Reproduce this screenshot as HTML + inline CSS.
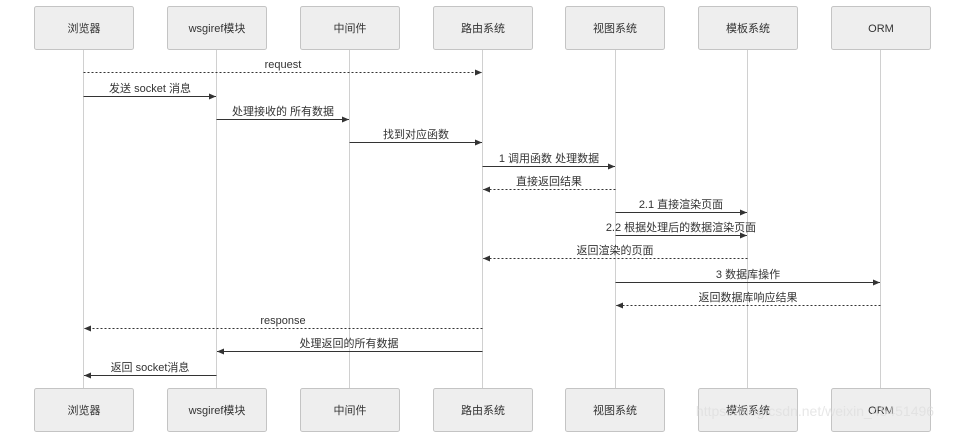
<!DOCTYPE html>
<html><head><meta charset="utf-8"><style>
html,body{margin:0;padding:0;background:#fff;}
svg{display:block;font-family:"Liberation Sans","Noto Sans CJK SC",sans-serif;}
</style></head><body>
<svg width="963" height="432" viewBox="0 0 963 432" xmlns="http://www.w3.org/2000/svg">
<defs>
<marker id="a" markerWidth="8" markerHeight="6" refX="7" refY="3" orient="auto" markerUnits="userSpaceOnUse">
<path d="M0,0 L7,3 L0,6 Z" fill="#333"/></marker>
</defs>
<g stroke="#d0d0d0" stroke-width="1">
<line x1="83.5" y1="49" x2="83.5" y2="388"/>
<line x1="216.5" y1="49" x2="216.5" y2="388"/>
<line x1="349.5" y1="49" x2="349.5" y2="388"/>
<line x1="482.5" y1="49" x2="482.5" y2="388"/>
<line x1="615.5" y1="49" x2="615.5" y2="388"/>
<line x1="747.5" y1="49" x2="747.5" y2="388"/>
<line x1="880.5" y1="49" x2="880.5" y2="388"/>
</g>
<g fill="#eeeeee" stroke="#c4c4c4" stroke-width="1">
<rect x="34.5" y="6.5" width="99" height="43" rx="2"/>
<rect x="167.5" y="6.5" width="99" height="43" rx="2"/>
<rect x="300.5" y="6.5" width="99" height="43" rx="2"/>
<rect x="433.5" y="6.5" width="99" height="43" rx="2"/>
<rect x="565.5" y="6.5" width="99" height="43" rx="2"/>
<rect x="698.5" y="6.5" width="99" height="43" rx="2"/>
<rect x="831.5" y="6.5" width="99" height="43" rx="2"/>
<rect x="34.5" y="388.5" width="99" height="43" rx="2"/>
<rect x="167.5" y="388.5" width="99" height="43" rx="2"/>
<rect x="300.5" y="388.5" width="99" height="43" rx="2"/>
<rect x="433.5" y="388.5" width="99" height="43" rx="2"/>
<rect x="565.5" y="388.5" width="99" height="43" rx="2"/>
<rect x="698.5" y="388.5" width="99" height="43" rx="2"/>
<rect x="831.5" y="388.5" width="99" height="43" rx="2"/>
</g>
<g font-size="11" fill="#333" text-anchor="middle">
<text x="84" y="32">浏览器</text><text x="217" y="32">wsgiref模块</text><text x="350" y="32">中间件</text>
<text x="483" y="32">路由系统</text><text x="615" y="32">视图系统</text><text x="748" y="32">模板系统</text><text x="881" y="32">ORM</text>
<text x="84" y="414">浏览器</text><text x="217" y="414">wsgiref模块</text><text x="350" y="414">中间件</text>
<text x="483" y="414">路由系统</text><text x="615" y="414">视图系统</text><text x="748" y="414">模板系统</text><text x="881" y="414">ORM</text>
</g>
<g stroke="#333" stroke-width="1" fill="none" marker-end="url(#a)">
<line x1="83.5" y1="72.5" x2="482" y2="72.5" stroke-dasharray="2,2"/>
<line x1="83.5" y1="96.5" x2="216" y2="96.5"/>
<line x1="216.5" y1="119.5" x2="349" y2="119.5"/>
<line x1="349.5" y1="142.5" x2="482" y2="142.5"/>
<line x1="482.5" y1="166.5" x2="615" y2="166.5"/>
<line x1="615.5" y1="189.5" x2="483" y2="189.5" stroke-dasharray="2,2"/>
<line x1="615.5" y1="212.5" x2="747" y2="212.5"/>
<line x1="615.5" y1="235.5" x2="747" y2="235.5"/>
<line x1="747.5" y1="258.5" x2="483" y2="258.5" stroke-dasharray="2,2"/>
<line x1="615.5" y1="282.5" x2="880" y2="282.5"/>
<line x1="880.5" y1="305.5" x2="616" y2="305.5" stroke-dasharray="2,2"/>
<line x1="482.5" y1="328.5" x2="84" y2="328.5" stroke-dasharray="2,2"/>
<line x1="482.5" y1="351.5" x2="217" y2="351.5"/>
<line x1="216.5" y1="375.5" x2="84" y2="375.5"/>
</g>
<g font-size="11" fill="#333" text-anchor="middle">
<text x="283" y="68">request</text>
<text x="150" y="92">发送 socket 消息</text>
<text x="283" y="115">处理接收的 所有数据</text>
<text x="416" y="138">找到对应函数</text>
<text x="549" y="162">1 调用函数 处理数据</text>
<text x="549" y="185">直接返回结果</text>
<text x="681" y="208">2.1 直接渲染页面</text>
<text x="681" y="231">2.2 根据处理后的数据渲染页面</text>
<text x="615" y="254">返回渲染的页面</text>
<text x="748" y="278">3 数据库操作</text>
<text x="748" y="301">返回数据库响应结果</text>
<text x="283" y="324">response</text>
<text x="349" y="347">处理返回的所有数据</text>
<text x="150" y="371">返回 socket消息</text>
</g>
<text x="815" y="416" font-size="14" fill="#ddd" fill-opacity="0.7" text-anchor="middle">https://blog.csdn.net/weixin_45451496</text>
</svg>
</body></html>
